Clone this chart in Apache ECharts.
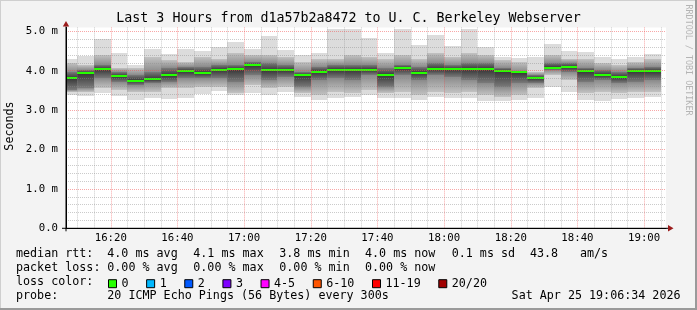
<!DOCTYPE html>
<html><head><meta charset="utf-8">
<script src="https://cdn.jsdelivr.net/npm/echarts@6/dist/echarts.min.js"></script>
<style>html,body{margin:0;padding:0;background:#f3f3f3}#c{width:697px;height:310px}</style>
</head><body><div id="c"></div><script>
// ---- data ----
const windowStart = '16:06:34';
const windowEnd = '19:06:34';
const binMinutes = 5;
const binEnds = ['16:10','16:15','16:20','16:25','16:30','16:35','16:40','16:45','16:50','16:55',
  '17:00','17:05','17:10','17:15','17:20','17:25','17:30','17:35','17:40','17:45',
  '17:50','17:55','18:00','18:05','18:10','18:15','18:20','18:25','18:30','18:35',
  '18:40','18:45','18:50','18:55','19:00','19:05'];
// smoke envelopes (ms)
const pingMax = [4.29,4.38,4.80,4.46,4.14,4.54,4.42,4.54,4.50,4.61,4.74,4.55,4.89,4.53,4.40,4.44,5.05,5.05,4.82,4.44,5.05,4.65,4.90,4.63,5.05,4.61,4.36,4.33,4.36,4.67,4.50,4.48,4.36,4.31,4.36,4.42];
const pingP90 = [4.19,4.15,4.40,4.06,4.06,4.36,4.27,4.23,4.36,4.31,4.44,4.40,4.40,4.36,4.23,4.31,4.31,4.40,4.36,4.31,4.40,4.31,4.44,4.36,4.44,4.40,4.27,4.23,3.98,4.40,4.31,4.31,4.19,4.15,4.23,4.31];
const pingP75 = [3.98,4.02,4.15,3.98,3.89,3.98,4.06,4.10,4.10,4.15,4.15,4.23,4.19,4.15,3.98,4.10,4.15,4.15,4.15,4.06,4.15,4.10,4.19,4.15,4.19,4.19,4.06,3.98,3.89,4.19,4.19,4.06,4.02,3.98,4.06,4.10];
const medianRtt = [3.81,3.94,4.04,3.86,3.75,3.78,3.88,3.99,3.94,4.02,4.04,4.14,4.01,4.01,3.89,3.97,4.02,4.02,4.02,3.89,4.07,3.95,4.04,4.04,4.04,4.04,3.99,3.97,3.81,4.08,4.09,3.99,3.89,3.84,3.99,3.99];
const pingP25 = [3.51,3.55,3.81,3.72,3.64,3.68,3.72,3.81,3.81,3.81,3.72,3.89,3.76,3.85,3.59,3.76,3.81,3.76,3.89,3.59,3.89,3.76,3.89,3.85,3.76,3.68,3.59,3.68,3.68,4.02,3.98,3.72,3.76,3.68,3.72,3.76];
const pingP10 = [3.45,3.45,3.55,3.51,3.45,3.47,3.55,3.55,3.59,3.59,3.43,3.64,3.55,3.59,3.43,3.38,3.47,3.43,3.51,3.43,3.47,3.38,3.47,3.43,3.47,3.38,3.34,3.38,3.55,3.89,3.76,3.43,3.47,3.43,3.47,3.47];
const pingMin = [3.38,3.36,3.43,3.37,3.26,3.32,3.28,3.30,3.41,3.49,3.38,3.43,3.38,3.47,3.34,3.26,3.32,3.34,3.38,3.30,3.32,3.26,3.34,3.30,3.32,3.23,3.23,3.26,3.32,3.59,3.47,3.26,3.23,3.28,3.32,3.34];
const xTickLabels = ['16:20','16:40','17:00','17:20','17:40','18:00','18:20','18:40','19:00'];
const yTicks = [0,1,2,3,4,5];
const yMaxValue = 5.1;
const lossNames = ['0','1','2','3','4-5','6-10','11-19','20/20'];
const lossColors = ['#26ff00','#00b8ff','#0059ff','#7e00ff','#ff00ff','#ff5500','#ff0000','#a10000'];
const titleText = 'Last 3 Hours from d1a57b2a8472 to U. C. Berkeley Webserver';
const rttLine = ['median rtt:','4.0 ms avg','4.1 ms max','3.8 ms min','4.0 ms now','0.1 ms sd','43.8','am/s'];
const lossLine = ['packet loss:','0.00 % avg','0.00 % max','0.00 % min','0.00 % now'];
const probeLine = ['probe:','20 ICMP Echo Pings (56 Bytes) every 300s','Sat Apr 25 19:06:34 2026'];

// ---- helpers ----
const MONO = '"DejaVu Sans Mono", monospace';
const toMin = s => { const p = s.split(':').map(Number); return p[0]*60 + p[1] + (p[2]||0)/60 - 960; };
const fmtHM = m => { const t = Math.round(m + 960); return String(Math.floor(t/60)).padStart(2,'0') + ':' + String(t%60).padStart(2,'0'); };
const tStart = toMin(windowStart), tEnd = toMin(windowEnd);
const majorX = xTickLabels.map(toMin);
const minorX = [];
for (let m = Math.ceil(tStart/5)*5; m <= tEnd; m += 5) if (majorX.indexOf(m) < 0) minorX.push(m);
const minorY = [];
for (let k = 1; k/5 <= yMaxValue; k++) if (k % 5 !== 0) minorY.push(k/5);

const smokeData = binEnds.map((e,i) => [toMin(e)-binMinutes, toMin(e), pingMax[i], pingP90[i], pingP75[i], medianRtt[i], pingP25[i], pingP10[i], pingMin[i]]);

function grad(stops){ return {type:'linear',x:0,y:0,x2:0,y2:1,colorStops:stops.map(s=>({offset:s[0],color:s[1]}))}; }

function renderItem(params, api){
  const x0 = api.value(0), x1 = api.value(1);
  const L = Math.round(api.coord([x0,0])[0]), R = Math.round(api.coord([x1,0])[0]);
  const Y = v => Math.round(api.coord([x0, v])[1]);
  const vals = [2,3,4,5,6,7,8].map(k => api.value(k));
  const yMax=Y(vals[0]), y90=Y(vals[1]), y75=Y(vals[2]), yMed=api.coord([x0, vals[3]])[1], y25=Y(vals[4]), y10=Y(vals[5]), yMin=Y(vals[6]);
  const band = (t,b,fill) => ({type:'rect', shape:{x:L,y:t,width:R-L,height:Math.max(0,b-t)}, style:{fill}});
  let f = (yMed - y75) / Math.max(1, (y25 - y75)); f = Math.min(0.95, Math.max(0.05, f));
  return {type:'group', children:[
    band(yMax, y90, '#dcdcdc'),
    band(y90, y75, grad([[0,'#c2c2c2'],[1,'#8a8a8a']])),
    band(y75, y25, grad([[0,'#7a7a7a'],[f,'#363636'],[1,'#7a7a7a']])),
    band(y25, y10, grad([[0,'#8a8a8a'],[1,'#c2c2c2']])),
    band(y10, yMin, '#dcdcdc'),
    {type:'rect', shape:{x:L, y:Math.round(yMed)-1, width:R-L, height:2}, style:{fill:lossColors[0]}}
  ]};
}

const gridGray = 'rgba(140,140,140,0.45)';
const gridRed = 'rgba(240,80,80,0.5)';

const chart = echarts.init(document.getElementById('c'), null, {renderer:'canvas'});
const option = {
  backgroundColor: '#f3f3f3',
  animation: false,
  grid: {left:66, right:31, top:27.4, bottom:81.7, show:true, backgroundColor:'#ffffff', borderWidth:0},
  xAxis: [
    {type:'value', min:tStart, max:tEnd, position:'bottom', z:10,
     axisLine:{show:true, onZero:false, lineStyle:{color:'#000', width:1}},
     axisTick:{show:false, customValues:majorX},
     axisLabel:{customValues:majorX, formatter:v=>fmtHM(v), fontFamily:MONO, fontSize:10.7, color:'#000', margin:4},
     splitLine:{show:true, lineStyle:{color:gridRed, type:[1,1], width:1}}},
    {type:'value', min:tStart, max:tEnd, position:'top', z:9,
     axisLine:{show:false}, axisLabel:{show:false},
     axisTick:{show:false, customValues:minorX},
     splitLine:{show:true, lineStyle:{color:gridGray, type:[1,1], width:1}}}
  ],
  yAxis: [
    {type:'value', min:0, max:yMaxValue, position:'left', z:10,
     axisLine:{show:true, onZero:false, lineStyle:{color:'#000', width:1}},
     axisTick:{show:false, customValues:yTicks},
     axisLabel:{customValues:yTicks, formatter:v => v===0 ? '0.0' : v.toFixed(1)+' m', fontFamily:MONO, fontSize:10.7, color:'#000', margin:8},
     splitLine:{show:true, lineStyle:{color:gridRed, type:[1,1], width:1}}},
    {type:'value', min:0, max:yMaxValue, position:'right', z:9,
     axisLine:{show:false}, axisLabel:{show:false},
     axisTick:{show:false, customValues:minorY},
     splitLine:{show:true, lineStyle:{color:gridGray, type:[1,1], width:1}}}
  ],
  legend: {
    left:108, top:277.7, padding:0, itemWidth:8, itemHeight:8, itemGap:17.6,
    selectedMode:false, icon:'rect',
    itemStyle:{borderColor:'#000', borderWidth:1},
    textStyle:{fontFamily:MONO, fontSize:11.7, color:'#000'},
    data: lossNames
  },
  series: [
    {type:'custom', name:'smoke', xAxisIndex:0, yAxisIndex:0, clip:true, z:2,
     renderItem, encode:{x:[0,1], y:[2,3,4,5,6,7,8]}, data:smokeData, silent:true}
  ].concat(lossNames.map((n,i)=>({type:'bar', name:n, data:[], itemStyle:{color:lossColors[i]}})))
};
chart.setOption(option);

// ---- texts, frame and axis arrows ----
const o = chart.convertToPixel({xAxisIndex:0, yAxisIndex:0}, [tStart, 0]);
const tp = chart.convertToPixel({xAxisIndex:0, yAxisIndex:0}, [tStart, yMaxValue]);
const rp = chart.convertToPixel({xAxisIndex:0, yAxisIndex:0}, [tEnd, 0]);
const arrowColor = '#9b1c1c';
const txt = (x,y,s,extra) => Object.assign({type:'text', x, y, silent:true, z:20,
  style:Object.assign({text:s, fill:'#000', font:'11.7px '+MONO, textAlign:'left', textVerticalAlign:'middle'}, extra||{})});
const segX = [16,107.3,193.3,279.3,365,451.7,530,580];
const g = [];
g.push({type:'rect', shape:{x:0,y:0,width:697,height:1}, style:{fill:'#cfcfcf'}, silent:true});
g.push({type:'rect', shape:{x:0,y:0,width:1,height:310}, style:{fill:'#cfcfcf'}, silent:true});
g.push({type:'rect', shape:{x:0,y:308,width:697,height:2}, style:{fill:'#9a9a9a'}, silent:true});
g.push({type:'rect', shape:{x:695,y:0,width:2,height:310}, style:{fill:'#9a9a9a'}, silent:true});
g.push(txt(348.5, 19, titleText, {font:'13.3px '+MONO, textAlign:'center'}));
g.push({type:'text', x:688, y:60, rotation:-Math.PI/2, silent:true,
  style:{text:'RRDTOOL / TOBI OETIKER', fill:'#b4b4b4', font:'8.4px '+MONO, textAlign:'center', textVerticalAlign:'middle'}});
g.push({type:'text', x:10, y:126, rotation:Math.PI/2, silent:true,
  style:{text:'Seconds', fill:'#000', font:'11.7px '+MONO, textAlign:'center', textVerticalAlign:'middle'}});
rttLine.forEach((s,i)=>g.push(txt(segX[i], 254.3, s)));
lossLine.forEach((s,i)=>g.push(txt(segX[i], 268.2, s)));
g.push(txt(16, 281.9, 'loss color:'));
g.push(txt(16, 295.8, probeLine[0]));
g.push(txt(107.3, 295.8, probeLine[1]));
g.push(txt(680.5, 295.8, probeLine[2], {textAlign:'right'}));
// axis line extensions + arrows
g.push({type:'line', shape:{x1:62, y1:o[1], x2:rp[0]+2, y2:o[1]}, style:{stroke:'#000', lineWidth:1}, silent:true, z:21});
g.push({type:'line', shape:{x1:o[0], y1:o[1]+3, x2:o[0], y2:tp[1]-1}, style:{stroke:'#000', lineWidth:1}, silent:true, z:21});
g.push({type:'polygon', shape:{points:[[o[0]-3.2, tp[1]-1],[o[0]+3.2, tp[1]-1],[o[0], tp[1]-6.5]]}, style:{fill:arrowColor}, silent:true, z:22});
g.push({type:'polygon', shape:{points:[[rp[0]+2, o[1]-3.2],[rp[0]+2, o[1]+3.2],[rp[0]+7.5, o[1]]]}, style:{fill:arrowColor}, silent:true, z:22});
chart.setOption({graphic:g});
</script></body></html>
